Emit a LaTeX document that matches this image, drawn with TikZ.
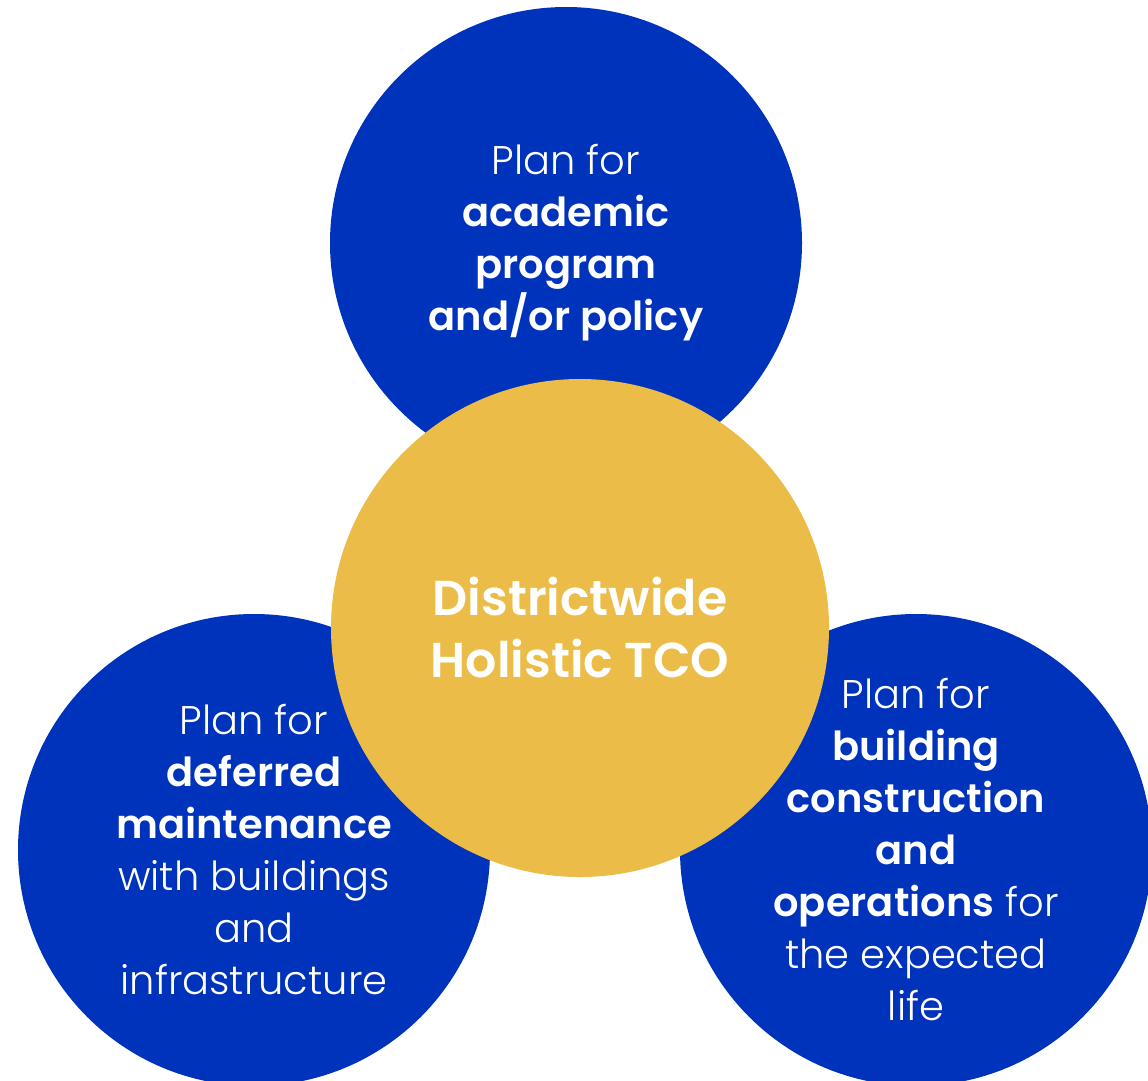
\documentclass[tikz,border=0pt]{standalone}
\usepackage{fontspec}
\setmainfont{Poppins}[UprightFont={* Light},BoldFont={* SemiBold}]
\definecolor{tcoblue}{RGB}{0,51,187}
\definecolor{tcogold}{RGB}{235,189,72}
\tikzset{
  planball/.style={circle, fill=tcoblue, text=white, minimum size=472, inner sep=0pt, align=center,
    font=\fontsize{40}{52}\selectfont},
  coreball/.style={circle, fill=tcogold, text=white, minimum size=498, inner sep=0pt, align=center,
    font=\fontsize{49}{62}\selectfont\bfseries}
}
\begin{document}
\begin{tikzpicture}[x=1pt,y=-1pt]
    \useasboundingbox (0,0) rectangle (1148,1081);
    \clip (0,0) rectangle (1148,1081);

    \node[planball](academic) at (566,243) {Plan for\\\textbf{academic}\\\textbf{program}\\\textbf{and/or policy}};
    \node[planball](deferred) at (254,850) {Plan for\\\textbf{deferred}\\\textbf{maintenance}\\with buildings\\and\\infrastructure};
    \node[planball](building) at (916,850) {Plan for\\\textbf{building}\\\textbf{construction}\\\textbf{and}\\\textbf{operations} for\\the expected\\life};
    \node[coreball](tco) at (580,628) {Districtwide\\Holistic TCO};
\end{tikzpicture}
\end{document}
